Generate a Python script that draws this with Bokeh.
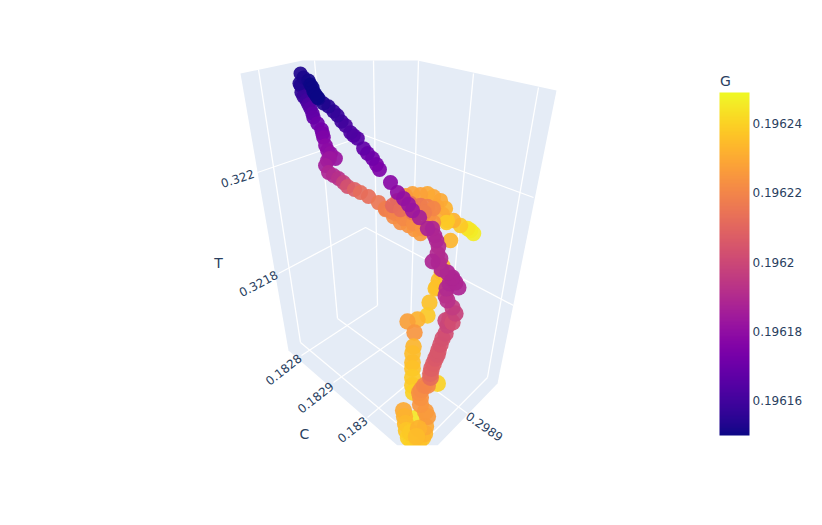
from bokeh.plotting import figure
from bokeh.models import ColorBar, LinearColorMapper, FixedTicker, Range1d, ColumnDataSource
from bokeh.palettes import Plasma256
from bokeh.core.properties import value
from bokeh.embed import file_html
from bokeh.resources import INLINE

# projected trajectory, in draw order (rear first): screen x, screen y, G
rear_x = [470,473,467,460,453,447,445,440,433,427,420,412,405,436,442,428,418,450,446,442,441,438,436,435,429,427,417,407,414,413,412,412,412,412,412,413,437,415]
rear_y = [230,233,228,225,220,220,208,200,196,193,194,193,195,206,214,212,208,240,222,265,272,280,287,288,302,315,319,321,332,346,353,362,368,377,385,392,383,418]
rear_g = [.196246,.196246,.196244,.196238,.196232,.196238,.196232,.196230,.196229,.196230,.196228,.196228,.196226,.196229,.196230,.196226,.196226,.196233,.196238,.196234,.196234,.196235,.196236,.196236,.196236,.196238,.196232,.196227,.196225,.196233,.196235,.196235,.196236,.196238,.196238,.196240,.196240,.196245]

low_x = [403,404,405,406,408,411,414,418,422,424,425,427,425,420,420,419,421,424,410,418,416]
low_y = [410,416,423,430,437,440,441,442,437,433,426,416,411,404,397,392,389,385,432,428,436]
low_g = [.196230,.196232,.196234,.196237,.196239,.196240,.196239,.196238,.196236,.196233,.196230,.196226,.196226,.196225,.196224,.196223,.196222,.196220,.196238,.196232,.196235]

band_x = [385,393,400,408,414,420,427,433,428,415,403]
band_y = [209,216,222,225,229,233,228,222,216,215,211]
band_g = [.196221,.196222,.196223,.196224,.196225,.196226,.196226,.196224,.196223,.196222,.196221]

left_x = [300,301,303,306,308,310,312,313,317,321,322,323,325,327,330,335,327,329,325,328,333,338,343,347,354,360,368,378,385,391,395,403,413,422,397,403,410,420,427,433,392,400,412,424]
left_y = [85,92,96,100,104,108,113,117,123,129,133,137,145,150,153,158,160,158,165,172,175,178,182,186,189,192,196,202,208,211,213,218,223,228,200,202,203,205,206,208,205,209,212,212]
left_g = [.196153,.196156,.196158,.196160,.196163,.196165,.196167,.196168,.196170,.196172,.196173,.196175,.196178,.196179,.196180,.196182,.196183,.196183,.196185,.196188,.196190,.196192,.196197,.196203,.196208,.196212,.196213,.196215,.196218,.196219,.196220,.196221,.196223,.196225,.196212,.196213,.196214,.196215,.196218,.196220,.196211,.196213,.196215,.196218]

main_x = [427,430,430,431,433,435,437,438,440,442,445,447,445,449,452,455,452,447,445,446,449,452,458,455,452,447,441,438,440,437,432,438,436,434,432,427,419,412,408,403,397,390,379,376,372,367,363,357,353,350,345,341,337,333,328,323,318]
main_y = [385,377,373,368,363,358,354,350,344,338,333,325,320,318,322,313,307,300,295,288,283,279,287,282,277,272,269,262,258,253,261,246,240,235,228,228,217,210,204,198,192,182,169,164,158,153,148,138,135,132,125,121,115,111,106,103,98]
main_g = [.196220,.196212,.196210,.196208,.196207,.196206,.196205,.196205,.196204,.196203,.196202,.196199,.196199,.196200,.196202,.196198,.196196,.196192,.196192,.196190,.196189,.196189,.196188,.196188,.196188,.196188,.196189,.196190,.196190,.196190,.196188,.196190,.196189,.196188,.196188,.196187,.196186,.196183,.196182,.196181,.196180,.196178,.196175,.196174,.196172,.196170,.196168,.196165,.196164,.196163,.196162,.196160,.196158,.196157,.196155,.196153,.196151]

top_x = [300,299,303,308,310,312,313,315,317]
top_y = [73,83,77,80,84,87,91,94,97]
top_g = [.196153,.196153,.196152,.196151,.196150,.196150,.196150,.196150,.196150]

# scene geometry, projected
pane_x = [240,302,417,556,497,437,397,288]
pane_y = [73,60,60,90,383,445,445,350]
grid_x = [[258,300],[314,337],[373,377],[418,410],[473,447],[538,487],
          [257,365,533],[278,365,513],
          [300,423],[337,467],
          [301,377],[333,410],[367,447],[420,487]]
grid_y = [[69,342],[60,318],[60,305],[60,328],[73,350],[87,377],
          [172,135,197],[273,227,305],
          [342,445],[318,413],
          [355,305],[382,328],[417,350],[445,377]]

tick_labels = ["0.322","0.3218","0.1828","0.1829","0.183","0.2989"]
tick_x = [237,258,283,315,352,484]
tick_y = [178,283,369,397,429,426]
tick_a = [18,28,38,38,38,-35]
title_labels = ["T","C","G"]
title_x = [218,304,725]
title_y = [262,433,80]

cbar_ticks = [.19616,.19618,.1962,.19622,.19624]
cbar_labels = ["0.19616","0.19618","0.1962","0.19622","0.19624"]
g_low, g_high = .19615, .196249

p = figure(width=806, height=509, output_backend="svg", toolbar_location=None,
           x_axis_location=None, y_axis_location=None, min_border=0,
           x_range=Range1d(0,806), y_range=Range1d(509,0), outline_line_color=None)
p.grid.visible = False

p.patch(pane_x, pane_y, fill_color="#E5ECF6", line_color=None)
p.multi_line(grid_x, grid_y, line_color="white", line_width=1.3)

mapper = LinearColorMapper(palette=Plasma256, low=g_low, high=g_high)
sets = [(rear_x, rear_y, rear_g), (low_x, low_y, low_g), (band_x, band_y, band_g),
        (left_x, left_y, left_g), (main_x, main_y, main_g), (top_x, top_y, top_g)]
for xs, ys, gs in sets:
    # nearer the camera (lower on the page) the markers are larger
    sizes = [14 + 3.5 * (y - 70) / 370 for y in ys]
    src = ColumnDataSource(dict(x=xs, y=ys, g=gs, s=sizes))
    p.scatter("x", "y", source=src, size="s", fill_color={"field":"g","transform":mapper},
              fill_alpha=0.92, line_alpha=0)

# the 3D scene is cut off at its lower edge
p.quad(left=[300], right=[520], top=[445], bottom=[470], fill_color="white", line_color=None)

font = value("DejaVu Sans")
p.text(tick_x, tick_y, text=tick_labels, angle=tick_a, angle_units="deg", text_font=font,
       text_font_size="12px", text_color="#2a3f5f", text_align="center", text_baseline="middle")
p.text(title_x, title_y, text=title_labels, text_font=font, text_font_size="14px",
       text_color="#2a3f5f", text_align="center", text_baseline="middle")

cb = ColorBar(color_mapper=mapper, location=(719,74), width=30, height=343, padding=0, margin=0,
              ticker=FixedTicker(ticks=cbar_ticks),
              major_label_overrides=dict(zip(cbar_ticks, cbar_labels)),
              major_tick_line_color=None, bar_line_color=None, border_line_color=None,
              background_fill_alpha=0, label_standoff=3,
              major_label_text_font="DejaVu Sans", major_label_text_font_size="12px",
              major_label_text_color="#2a3f5f")
p.add_layout(cb)

open("out.html", "w").write(file_html(p, INLINE))
